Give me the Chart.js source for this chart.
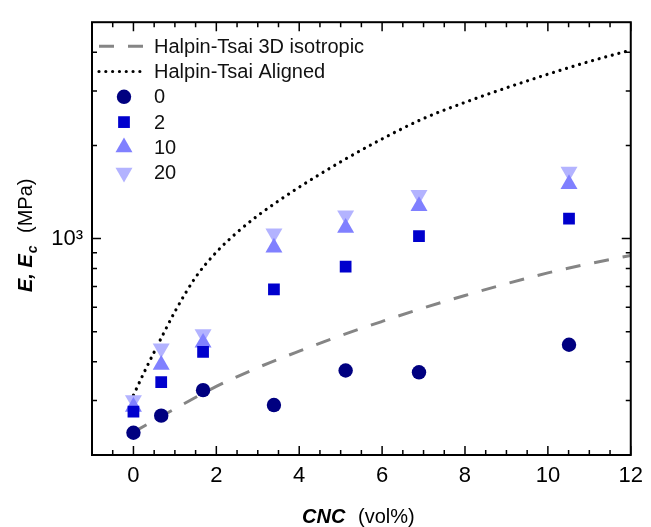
<!DOCTYPE html>
<html>
<head>
<meta charset="utf-8">
<script src="https://cdn.jsdelivr.net/npm/chart.js@4.4.1/dist/chart.umd.min.js"></script>
<style>
  html, body { margin: 0; padding: 0; background: #fff; }
  #wrap { width: 651px; height: 527px; }
</style>
</head>
<body>
<div id="wrap"><canvas id="chart" width="651" height="527"></canvas></div>
<script>
// measured samples, CNC content in vol%
const cncVol = [0, 0.67, 1.68, 3.39, 5.12, 6.89, 10.51];
const modulus0 = [236, 268, 324, 290, 375, 370, 454];
const modulus2 = [276, 344, 431, 685, 812, 1018, 1160];
const modulus10 = [286, 391, 461, 936, 1083, 1274, 1500];
const modulus20 = [301, 442, 491, 1040, 1189, 1384, 1646];

// Halpin-Tsai curves
const isoX = [0, 1, 2, 3, 4, 5, 6, 7, 8, 9, 10, 11, 12];
const isoY = [237, 282, 333, 383, 433, 486, 540, 597, 655, 715, 775, 830, 882];
const alignedX = [0, 0.25, 0.5, 0.75, 1, 1.5, 2, 2.5, 3, 4, 5, 6, 7, 8, 9, 10, 11, 12];
const alignedY = [312, 368, 430, 501, 581, 750, 904, 1047, 1186, 1466, 1770, 2099, 2443, 2754, 3069, 3396, 3733, 4064];

const xTicks = [0, 2, 4, 6, 8, 10, 12];
const xMinorTicks = [-0.5, 0.5, 1, 1.5, 2.5, 3, 3.5, 4.5, 5, 5.5, 6.5, 7, 7.5, 8.5, 9, 9.5, 10.5, 11, 11.5];
const yTicks = [1000];
const yMinorTicks = [300, 400, 500, 600, 700, 800, 900, 2000, 3000, 4000];

const FONT = '"Liberation Sans", Arial, sans-serif';

function pts(xs, ys) {
  return xs.map((x, i) => ({ x: x, y: ys[i] }));
}

// box round the plot, ticks pointing inward on all four sides
const frame = {
  id: 'frame',
  afterDraw(chart) {
    const ctx = chart.ctx;
    const a = chart.chartArea;
    const xs = chart.scales.x, ys = chart.scales.y;
    ctx.save();
    ctx.strokeStyle = '#000';
    ctx.lineWidth = 1.5;
    ctx.beginPath();
    const tick = (list, len) => {
      list.forEach(v => {
        const px = xs.getPixelForValue(v);
        ctx.moveTo(px, a.bottom); ctx.lineTo(px, a.bottom - len);
        ctx.moveTo(px, a.top); ctx.lineTo(px, a.top + len);
      });
    };
    tick(xTicks, 9);
    tick(xMinorTicks, 5);
    const ytick = (list, len) => {
      list.forEach(v => {
        const py = ys.getPixelForValue(v);
        ctx.moveTo(a.left, py); ctx.lineTo(a.left + len, py);
        ctx.moveTo(a.right, py); ctx.lineTo(a.right - len, py);
      });
    };
    ytick(yTicks, 9);
    ytick(yMinorTicks, 5);
    ctx.stroke();
    ctx.lineWidth = 2;
    ctx.strokeRect(a.left, a.top, a.right - a.left, a.bottom - a.top);

    // axis titles
    ctx.fillStyle = '#000';
    ctx.textBaseline = 'alphabetic';
    ctx.textAlign = 'left';
    ctx.font = 'bold italic 20px ' + FONT;
    ctx.fillText('CNC', 302, 523);
    ctx.font = '20px ' + FONT;
    ctx.fillText('(vol%)', 358, 523);

    ctx.translate(32, 292);
    ctx.rotate(-Math.PI / 2);
    ctx.font = 'bold italic 20px ' + FONT;
    ctx.fillText('E, E', 0, 0);
    const w = ctx.measureText('E, E').width;
    ctx.font = 'bold italic 14px ' + FONT;
    ctx.fillText('c', w + 1, 5);
    ctx.font = '20px ' + FONT;
    ctx.fillText('(MPa)', 59, 0);
    ctx.restore();
  }
};

// legend inside the plot, top left
const insideLegend = {
  id: 'insideLegend',
  afterDatasetsDraw(chart) {
    const ctx = chart.ctx;
    const a = chart.chartArea;
    ctx.save();
    ctx.font = '20px ' + FONT;
    ctx.textBaseline = 'middle';
    chart.data.datasets.forEach((ds, i) => {
      const y = a.top + 24 + i * 25.3;
      if (ds.showLine) {
        ctx.strokeStyle = ds.borderColor;
        ctx.lineWidth = ds.borderWidth;
        ctx.lineCap = ds.borderCapStyle || 'butt';
        ctx.setLineDash(ds.borderDash || []);
        ctx.beginPath();
        ctx.moveTo(a.left + 7, y);
        ctx.lineTo(a.left + 53, y);
        ctx.stroke();
        ctx.setLineDash([]);
      } else {
        ctx.fillStyle = ds.backgroundColor;
        Chart.helpers.drawPoint(ctx, {
          pointStyle: ds.pointStyle,
          radius: ds.pointRadius,
          rotation: ds.rotation || 0,
          borderWidth: 0
        }, a.left + 32, y);
      }
      ctx.fillStyle = '#111';
      ctx.fillText(ds.label, a.left + 62, y + 1);
    });
    ctx.restore();
  }
};

const ctx = document.getElementById('chart');

new Chart(ctx, {
  type: 'scatter',
  data: {
    datasets: [
      {
        label: 'Halpin-Tsai 3D isotropic',
        data: pts(isoX, isoY),
        showLine: true,
        borderColor: '#858585',
        borderWidth: 3,
        borderDash: [15, 14],
        pointRadius: 0,
        cubicInterpolationMode: 'monotone',
        order: 4
      },
      {
        label: 'Halpin-Tsai Aligned',
        data: pts(alignedX, alignedY),
        showLine: true,
        borderColor: '#000',
        borderWidth: 3.2,
        borderDash: [0.01, 6.8],
        borderCapStyle: 'round',
        pointRadius: 0,
        cubicInterpolationMode: 'monotone',
        order: 5
      },
      {
        label: '0',
        data: pts(cncVol, modulus0),
        backgroundColor: '#000080',
        pointStyle: 'circle',
        pointRadius: 7.2,
        pointBorderWidth: 0,
        order: 0
      },
      {
        label: '2',
        data: pts(cncVol, modulus2),
        backgroundColor: '#0000CD',
        pointStyle: 'rect',
        pointRadius: 8.3,
        pointBorderWidth: 0,
        order: 1
      },
      {
        label: '10',
        data: pts(cncVol, modulus10),
        backgroundColor: '#8080FF',
        pointStyle: 'triangle',
        pointRadius: 9.8,
        pointBorderWidth: 0,
        order: 2
      },
      {
        label: '20',
        data: pts(cncVol, modulus20),
        backgroundColor: '#B3B3FF',
        pointStyle: 'triangle',
        rotation: 180,
        pointRotation: 180,
        pointRadius: 9.8,
        pointBorderWidth: 0,
        order: 3
      }
    ]
  },
  options: {
    responsive: false,
    animation: false,
    layout: { padding: { top: 16, right: 14, left: 0, bottom: 0 } },
    plugins: {
      legend: { display: false },
      tooltip: { enabled: false }
    },
    scales: {
      x: {
        type: 'linear',
        min: -1,
        max: 12,
        grid: { display: false, drawTicks: false },
        border: { display: false },
        ticks: {
          color: '#000',
          font: { family: FONT, size: 22 },
          padding: 8,
          maxRotation: 0
        },
        afterBuildTicks: s => { s.ticks = xTicks.map(v => ({ value: v })); },
        afterFit: s => { s.height = 72; }
      },
      y: {
        type: 'logarithmic',
        min: 200,
        max: 5000,
        grid: { display: false, drawTicks: false },
        border: { display: false },
        ticks: {
          color: '#000',
          font: { family: FONT, size: 22 },
          padding: 9,
          autoSkip: false,
          callback: v => (v === 1000 ? '10³' : '')
        },
        afterBuildTicks: s => { s.ticks = yTicks.map(v => ({ value: v })); },
        afterFit: s => { s.width = 92; }
      }
    }
  },
  plugins: [insideLegend, frame]
});
</script>
</body>
</html>
